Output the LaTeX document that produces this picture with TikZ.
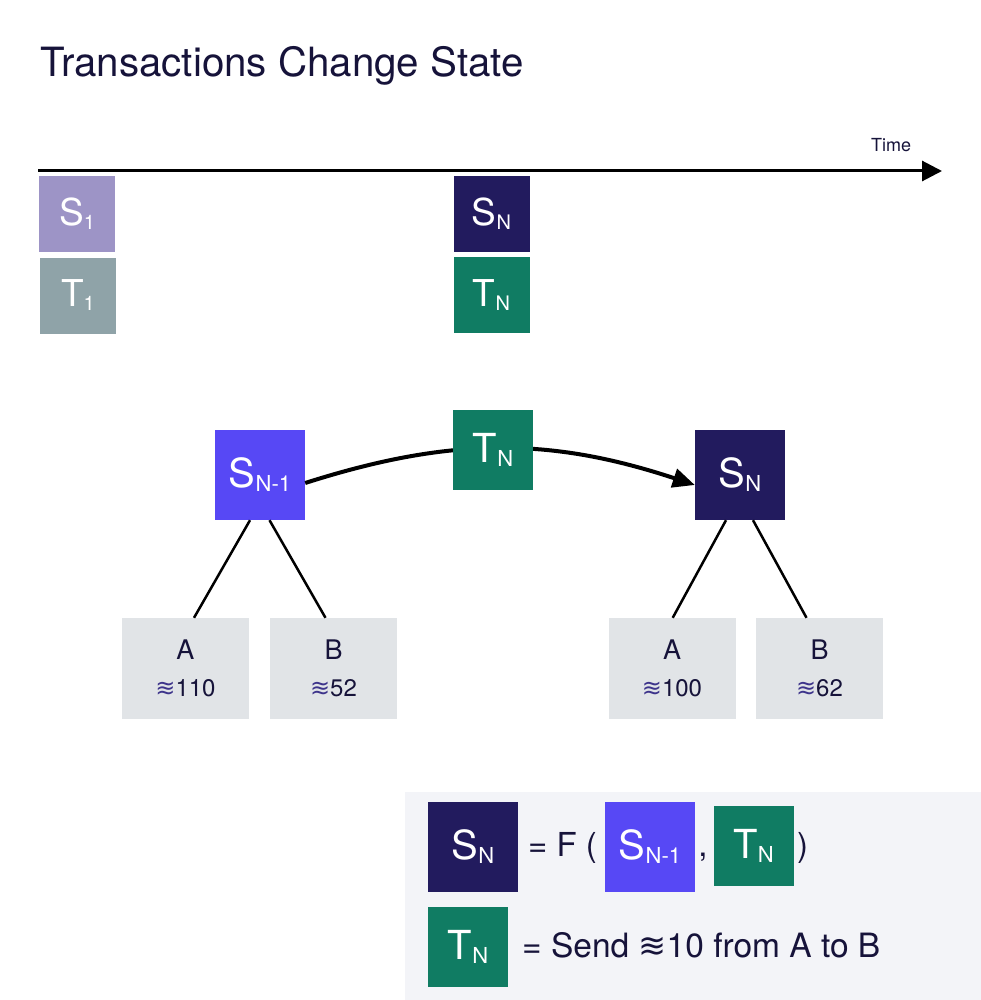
\documentclass[tikz,border=0pt]{standalone}
\usepackage{fontspec}
\setmainfont{TeX Gyre Heros}
\newfontfamily\symfont{DejaVu Sans}
\usetikzlibrary{arrows.meta}

\definecolor{inkdark}{HTML}{16133A}
\definecolor{stateone}{HTML}{9D94C6}
\definecolor{txone}{HTML}{8FA3A8}
\definecolor{statenavy}{HTML}{221B5E}
\definecolor{txgreen}{HTML}{107C63}
\definecolor{stateprev}{HTML}{5748F5}
\definecolor{accgray}{HTML}{E1E4E7}
\definecolor{legendbg}{HTML}{F3F4F8}
\definecolor{wavecol}{HTML}{3D348B}

\newcommand{\stsub}[3][22]{#2\raisebox{-4pt}{\fontsize{#1}{#1}\selectfont #3}}
\newcommand{\wavesym}{{\symfont ≋}}

\tikzset{
	sbox/.style={inner sep=0pt, text=white, font=\fontsize{40}{40}\selectfont, minimum size=90pt},
	tbox/.style={sbox, minimum size=80pt},
	topbox/.style={inner sep=0pt, text=white, font=\fontsize{37}{37}\selectfont, minimum size=76pt},
	account/.style={fill=accgray, text=inkdark, inner sep=0pt, minimum width=127pt, minimum height=101pt, align=center, font=\fontsize{27}{37}\selectfont},
	caption/.style={inner sep=0pt, text=inkdark},
	branch/.style={line width=2.5pt},
	timeline/.style={line width=3pt, -{Triangle[length=20pt,width=20pt]}},
	flow/.style={line width=4pt, -{Triangle[length=22pt,width=19pt]}}
}

\begin{document}
\begin{tikzpicture}[x=1pt, y=-1pt]
			%%%%% START %%%%%
			\useasboundingbox (0,0) rectangle (981,1000);
			
			\node[caption, anchor=base west, font=\fontsize{40.3}{41}\selectfont] (title) at (40,77) {Transactions Change State};
			
			\coordinate (tstart) at (38,171);
			\coordinate (tend) at (942,171);
			\draw[timeline] (tstart) -- (tend);
			\node[caption, anchor=base, font=\fontsize{18}{18}\selectfont] (timelbl) at (891,152) {Time};
			
			\node[topbox, fill=stateone] (sone) at (77,214) {\stsub[20]{S}{1}};
			\node[topbox, fill=txone] (tone) at (78,295.5) {\stsub[20]{T}{1}};
			\node[topbox, fill=statenavy] (sntop) at (491.5,214) {\stsub[20]{S}{N}};
			\node[topbox, fill=txgreen] (tntop) at (491.5,295) {\stsub[20]{T}{N}};
			
			\node[sbox, fill=stateprev] (sprev) at (260,475) {\stsub{S}{N-1}};
			\node[sbox, fill=statenavy] (snext) at (740,475) {\stsub{S}{N}};
			\draw[flow] ([yshift=-8pt]sprev.east) to[bend left=18] ([yshift=-10pt]snext.west);
			\node[tbox, fill=txgreen] (tnmid) at (493,450) {\stsub{T}{N}};
			
			\node[account] (aprev) at (185.5,668.5) {A\\{\fontsize{24}{37}\selectfont{\color{wavecol}\wavesym}110}};
			\node[account] (bprev) at (333.5,668.5) {B\\{\fontsize{24}{37}\selectfont{\color{wavecol}\wavesym}52}};
			\node[account] (anext) at (672,668.5) {A\\{\fontsize{24}{37}\selectfont{\color{wavecol}\wavesym}100}};
			\node[account] (bnext) at (819.5,668.5) {B\\{\fontsize{24}{37}\selectfont{\color{wavecol}\wavesym}62}};
			
			\draw[branch] ([xshift=-10pt]sprev.south) -- ([xshift=8.5pt]aprev.north);
			\draw[branch] ([xshift=9.5pt]sprev.south) -- ([xshift=-8pt]bprev.north);
			\draw[branch] ([xshift=-14pt]snext.south) -- ([xshift=0.7pt]anext.north);
			\draw[branch] ([xshift=13pt]snext.south) -- ([xshift=-13pt]bnext.north);
			
			\node[fill=legendbg, inner sep=0pt, minimum width=576pt, minimum height=208pt, anchor=north west] (legend) at (405,792) {};
			
			\node[sbox, fill=statenavy] (keysn) at (473,846.5) {\stsub{S}{N}};
			\node[caption, anchor=base west, font=\fontsize{33}{33}\selectfont] (eqf) at (528,856) {= F (};
			\node[sbox, fill=stateprev] (keysprev) at (650,846.5) {\stsub{S}{N-1}};
			\node[caption, anchor=base, font=\fontsize{33}{33}\selectfont] (comma) at (703,856) {,};
			\node[tbox, fill=txgreen] (keytn) at (753.5,846) {\stsub{T}{N}};
			\node[caption, anchor=base west, font=\fontsize{33}{33}\selectfont] (close) at (797,856) {)};
			
			\node[tbox, fill=txgreen] (keytx) at (468,947) {\stsub{T}{N}};
			\node[caption, anchor=base west, font=\fontsize{33.5}{34}\selectfont] (send) at (522,957) {= Send \wavesym10 from A to B};
			
			%%%%% END %%%%%
\end{tikzpicture}
\end{document}
